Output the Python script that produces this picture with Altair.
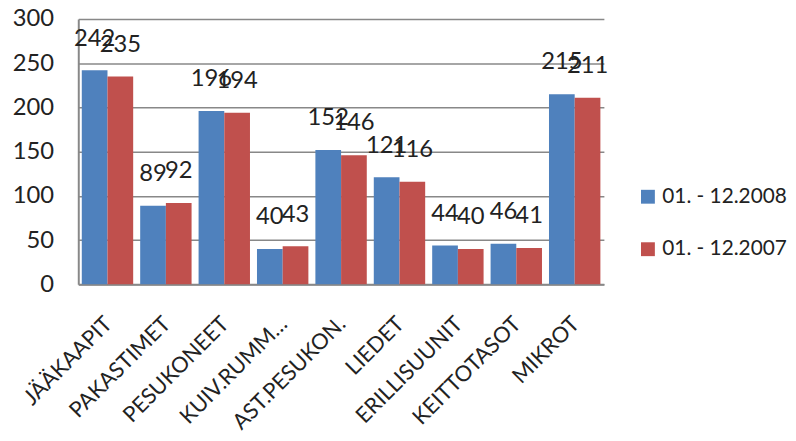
import altair as alt
import pandas as pd

categories = ["JÄÄKAAPIT", "PAKASTIMET", "PESUKONEET", "KUIV.RUMM…", "AST.PESUKON.",
              "LIEDET", "ERILLISUUNIT", "KEITTOTASOT", "MIKROT"]
series_names = ["01. - 12.2008", "01. - 12.2007"]
values_2008 = [242, 89, 196, 40, 152, 121, 44, 46, 215]
values_2007 = [235, 92, 194, 43, 146, 116, 40, 41, 211]
colors = ["#4F81BD", "#C0504D"]

rows = []
for c, a, b in zip(categories, values_2008, values_2007):
    rows.append({"cat": c, "series": series_names[0], "value": a})
    rows.append({"cat": c, "series": series_names[1], "value": b})
df = pd.DataFrame(rows)

FONT = "Lato"
FS = 24

x_enc = alt.X("cat:N", sort=categories, title=None,
              scale=alt.Scale(paddingInner=0.12, paddingOuter=0.06),
              axis=alt.Axis(labelAngle=-45, labelAlign="right", labelBaseline="middle",
                            labelFontSize=22, labelFont=FONT, labelColor="#222222",
                            labelPadding=36, labelOffset=1, ticks=False, domain=True,
                            domainColor="#888888", domainWidth=2, grid=False,
                            labelOverlap=False, labelLimit=300))
xoff = alt.XOffset("series:N", sort=series_names)

bars = alt.Chart(df).mark_bar(stroke=None).encode(
    x=x_enc,
    xOffset=xoff,
    y=alt.Y("value:Q", title=None,
            scale=alt.Scale(domain=[0, 300], nice=False),
            axis=alt.Axis(values=[0, 50, 100, 150, 200, 250, 300], labelFontSize=FS,
                          labelFont=FONT, labelColor="#222222", ticks=False,
                          labelPadding=25, domainColor="#888888", domainWidth=2,
                          gridColor="#888888", gridWidth=1.5)),
    color=alt.Color("series:N", sort=series_names,
                    scale=alt.Scale(domain=series_names, range=colors),
                    legend=alt.Legend(title=None, orient="none", legendX=565, legendY=169,
                                      symbolType="square", symbolSize=196,
                                      symbolStrokeWidth=0, labelFontSize=21,
                                      labelFont=FONT, labelColor="#222222",
                                      rowPadding=31, labelOffset=4, labelLimit=400)),
)

labels = alt.Chart(df).mark_text(baseline="bottom", dy=-20, fontSize=FS, font=FONT,
                                 color="#222222").encode(
    x=alt.X("cat:N", sort=categories),
    xOffset=xoff,
    y="value:Q",
    text="value:Q",
)

chart = alt.layer(bars, labels).properties(
    width=531, height=268,
    autosize=alt.AutoSizeParams(type="none"),
    padding={"left": 71, "top": 9, "right": 186, "bottom": 148},
).configure_view(stroke=None).configure_axis(gridOpacity=1)

chart.save("out.html", embed_options={"renderer": "svg", "actions": False})
